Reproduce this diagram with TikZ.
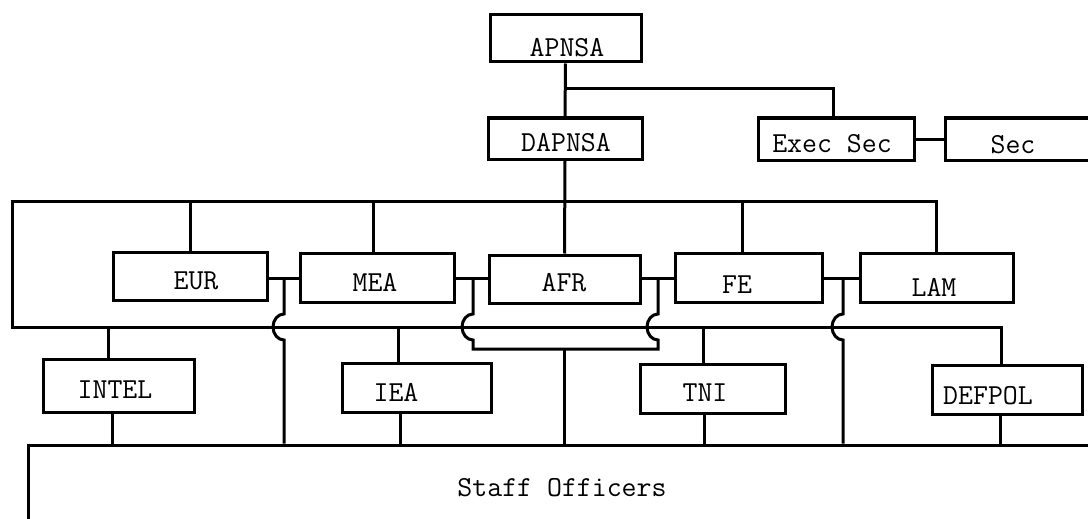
\documentclass[tikz,border=0pt]{standalone}
\usepackage{fontspec}
\usetikzlibrary{calc}
\usetikzlibrary{positioning}

\begin{document}
\begin{tikzpicture}[x=1pt,y=-1pt,line width=3pt,
    box/.style={draw,inner sep=0pt},
    lbl/.style={inner sep=0pt,font=\ttfamily\fontsize{29}{34}\selectfont}]
    \clip (0,0) rectangle (1088,519);

    % boxes
    \node [box,minimum width=151pt,minimum height=47pt] (apnsa)   at (565.5,38.5) {};
    \node [box,minimum width=154pt,minimum height=41pt] (dapnsa)  at (565,138.5) {};
    \node [box,minimum width=156pt,minimum height=42pt] (execsec) at (836,139) {};
    \node [box,minimum width=150pt,minimum height=42pt] (sec)     at (1020,139) {};

    \node [box,minimum width=154pt,minimum height=48pt] (eur) at (190,276) {};
    \node [box,minimum width=154pt,minimum height=49pt] (mea) at (377,277.5) {};
    \node [box,minimum width=151pt,minimum height=48pt] (afr) at (564.5,279) {};
    \node [box,minimum width=147pt,minimum height=49pt] (fe)  at (748.5,277.5) {};
    \node [box,minimum width=153pt,minimum height=49pt] (lam) at (936.5,277.5) {};

    \node [box,minimum width=151pt,minimum height=53pt] (intel)  at (118.5,385.5) {};
    \node [box,minimum width=149pt,minimum height=49pt] (iea)    at (416.5,387.5) {};
    \node [box,minimum width=145pt,minimum height=49pt] (tni)    at (712.5,388.5) {};
    \node [box,minimum width=150pt,minimum height=49pt] (defpol) at (1007,389.5) {};

    \node [box,minimum width=1072pt,minimum height=86pt] (staff) at (564,488) {};

    % texts
    \node [lbl] (t-apnsa)   at (567,47.5)  {APNSA};
    \node [lbl] (t-dapnsa)  at (566,142.5) {DAPNSA};
    \node [lbl] (t-execsec) at (832,144)   {Exec Sec};
    \node [lbl] (t-sec)     at (1013,145)  {Sec};
    \node [lbl] (t-eur)     at (196,281)   {EUR};
    \node [lbl] (t-mea)     at (375,282)   {MEA};
    \node [lbl] (t-afr)     at (564,283)   {AFR};
    \node [lbl] (t-fe)      at (737,285)   {FE};
    \node [lbl] (t-lam)     at (934,287)   {LAM};
    \node [lbl] (t-intel)   at (115,390)   {INTEL};
    \node [lbl] (t-iea)     at (396,392)   {IEA};
    \node [lbl] (t-tni)     at (705,393)   {TNI};
    \node [lbl] (t-defpol)  at (988,396)   {DEFPOL};
    \node [lbl] (t-staff)   at (562,488)   {Staff Officers};

    % top of the chart
    \coordinate (br) at (0,89);
    \draw (apnsa.south) -- (dapnsa.north);
    \draw (apnsa.south |- br) -| ([xshift=-3pt]execsec.north);
    \draw (execsec.east) -- (sec.west);

    % main loop round the desks
    \coordinate (tl) at (12,201);
    \coordinate (bl) at (12,327);
    \draw (dapnsa.south) -- (afr.north);
    \draw (lam.north) |- (tl) -- (bl) -| ([xshift=-6pt]defpol.north);
    \draw (eur.north) -- (eur.north |- tl);
    \draw ([xshift=-4pt]mea.north) -- ([xshift=-4pt]mea.north |- tl);
    \draw ([xshift=-6pt]fe.north) -- ([xshift=-6pt]fe.north |- tl);
    \draw ([xshift=-10pt]intel.north) -- ([xshift=-10pt]intel.north |- bl);
    \draw ([xshift=-18pt]iea.north) -- ([xshift=-18pt]iea.north |- bl);
    \draw ([xshift=-9pt]tni.north) -- ([xshift=-9pt]tni.north |- bl);

    % down to the staff officers
    \draw ([xshift=-6pt]intel.south) -- ([xshift=-6pt]intel.south |- staff.north);
    \draw ([xshift=-16pt]iea.south) -- ([xshift=-16pt]iea.south |- staff.north);
    \draw ([xshift=-8pt]tni.south) -- ([xshift=-8pt]tni.south |- staff.north);
    \draw ([xshift=-7pt]defpol.south) -- ([xshift=-7pt]defpol.south |- staff.north);

    % links between the desks, hopping over the loop
    \coordinate (j1) at (284,278);
    \coordinate (j2) at (473,278);
    \coordinate (j3) at (658,278);
    \coordinate (j4) at (843,278);
    \coordinate (hopa) at (0,314);
    \coordinate (hopb) at (0,340);
    \coordinate (lp) at (0,349);

    \draw (eur.east |- j1) -- (mea.west |- j1);
    \draw (mea.east |- j2) -- (afr.west |- j2);
    \draw (afr.east |- j3) -- (fe.west |- j3);
    \draw (fe.east |- j4) -- (lam.west |- j4);

    \draw (j1) -- (j1 |- hopa) arc[start angle=90,end angle=270,x radius=11pt,y radius=13pt]
        -- (j1 |- staff.north);
    \draw (j2) -- (j2 |- hopa) arc[start angle=90,end angle=270,x radius=11pt,y radius=13pt]
        -- (j2 |- lp) -- (j3 |- lp) -- (j3 |- hopb)
        arc[start angle=270,end angle=90,x radius=11pt,y radius=13pt] -- (j3);
    \draw (afr.south |- lp) -- (afr.south |- staff.north);
    \draw (j4) -- (j4 |- hopa) arc[start angle=90,end angle=270,x radius=11pt,y radius=13pt]
        -- (j4 |- staff.north);
\end{tikzpicture}
\end{document}
